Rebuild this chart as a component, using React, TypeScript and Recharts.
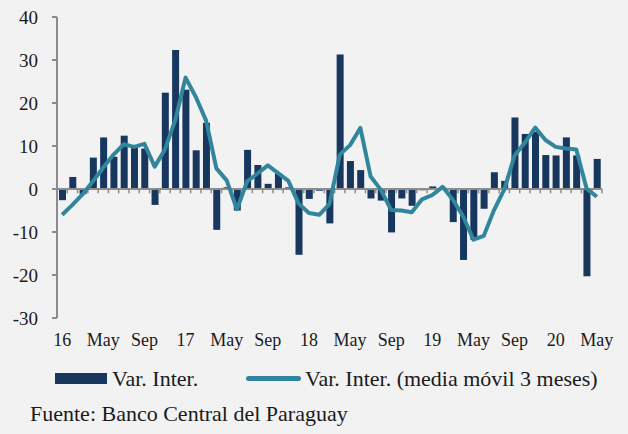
import React from "react";
import { ComposedChart, Bar, Line, XAxis, YAxis, ReferenceLine } from "recharts";

const monthLabels = ["16", "May", "Sep", "17", "May", "Sep", "18", "May", "Sep", "19", "May", "Sep", "20", "May"];
const labelEvery = 4;

const varInter = [
  -2.6, 2.8, -1.2, 7.3, 12.0, 7.5, 12.4, 9.8, 9.4, -3.7, 22.4, 32.3,
  23.1, 9.0, 15.4, -9.5, 0.4, -5.0, 9.1, 5.6, 1.2, 3.6, 0.4, -15.3,
  -2.3, -0.4, -8.0, 31.3, 6.5, 4.4, -2.2, -2.7, -10.1, -2.2, -3.9, -0.3,
  0.6, 0.3, -7.7, -16.5, -11.8, -4.6, 3.9, 1.9, 16.6, 12.8, 13.3, 7.9,
  7.8, 12.0, 7.8, -20.3, 7.0,
];

const mediaMovil = [
  -6.0, -3.7, -1.2, 1.8, 5.0, 8.0, 10.4, 9.8, 10.5, 5.2, 9.2, 16.0,
  25.9, 21.4, 15.9, 4.8, 2.0, -4.7, 1.8, 3.6, 5.5, 3.7, 1.9, -3.4,
  -5.6, -6.0, -3.5, 8.0, 10.2, 14.2, 2.9, -0.2, -4.9, -5.0, -5.4, -2.4,
  -1.4, 0.5, -2.5, -6.4, -11.8, -10.9, -4.9, -0.1, 7.8, 10.8, 14.3, 11.4,
  9.8, 9.4, 9.2, 0.1, -1.8,
];

const yTicks = [-30, -20, -10, 0, 10, 20, 30, 40];

const data = varInter.map((v, i) => ({ i, bar: v, ma: mediaMovil[i] }));
const xTicks = monthLabels.map((_, k) => k * labelEvery);
const boundaries = varInter.map((_, i) => i + 0.5);

const FONT = "'Liberation Serif', 'Times New Roman', serif";
const BAR = "#17375e";
const LINE = "#31859c";
const AXIS = "#8c8c8c";

export default function App() {
  return (
    <div
      style={{
        position: "absolute",
        left: 0,
        top: 0,
        width: 628,
        height: 434,
        background: "#f2f2f2",
        fontFamily: FONT,
        color: "#1a1a1a",
      }}
    >
      <ComposedChart
        width={628}
        height={434}
        data={data}
        margin={{ top: 17, right: 26, left: 12, bottom: 86 }}
      >
        <XAxis
          dataKey="i"
          type="number"
          domain={[-0.5, 52.5]}
          ticks={xTicks}
          interval={0}
          tickFormatter={(v) => monthLabels[Math.round(v / labelEvery)]}
          axisLine={false}
          tickLine={false}
          tickMargin={9}
          height={30}
          tick={{ fill: "#1a1a1a", fontSize: 18, fontFamily: FONT }}
        />
        <YAxis
          domain={[-30, 40]}
          ticks={yTicks}
          interval={0}
          width={45}
          axisLine={{ stroke: AXIS, strokeWidth: 2 }}
          tickLine={{ stroke: AXIS, strokeWidth: 2 }}
          tickSize={5}
          tickMargin={14}
          tick={{ fill: "#1a1a1a", fontSize: 19, fontFamily: FONT }}
        />
        <Bar dataKey="bar" fill={BAR} barSize={7} isAnimationActive={false} />
        <ReferenceLine y={0} stroke={AXIS} strokeWidth={2} />
        {boundaries.map((b) => (
          <ReferenceLine
            key={b}
            segment={[
              { x: b, y: 0 },
              { x: b, y: -1 },
            ]}
            stroke={AXIS}
            strokeWidth={1.5}
          />
        ))}
        <Line
          dataKey="ma"
          type="linear"
          stroke={LINE}
          strokeWidth={4}
          dot={false}
          activeDot={false}
          strokeLinejoin="round"
          isAnimationActive={false}
        />
      </ComposedChart>
      <div style={{ position: "absolute", left: 55, top: 373, width: 52, height: 11, background: BAR }} />
      <div style={{ position: "absolute", left: 112, top: 366, fontSize: 22, lineHeight: "26px", whiteSpace: "nowrap" }}>
        Var. Inter.
      </div>
      <div style={{ position: "absolute", left: 246, top: 376, width: 55, height: 5, borderRadius: 3, background: LINE }} />
      <div style={{ position: "absolute", left: 305, top: 366, fontSize: 22, lineHeight: "26px", whiteSpace: "nowrap" }}>
        Var. Inter. (media móvil 3 meses)
      </div>
      <div style={{ position: "absolute", left: 30, top: 401, fontSize: 22, lineHeight: "26px", whiteSpace: "nowrap" }}>
        Fuente: Banco Central del Paraguay
      </div>
    </div>
  );
}
